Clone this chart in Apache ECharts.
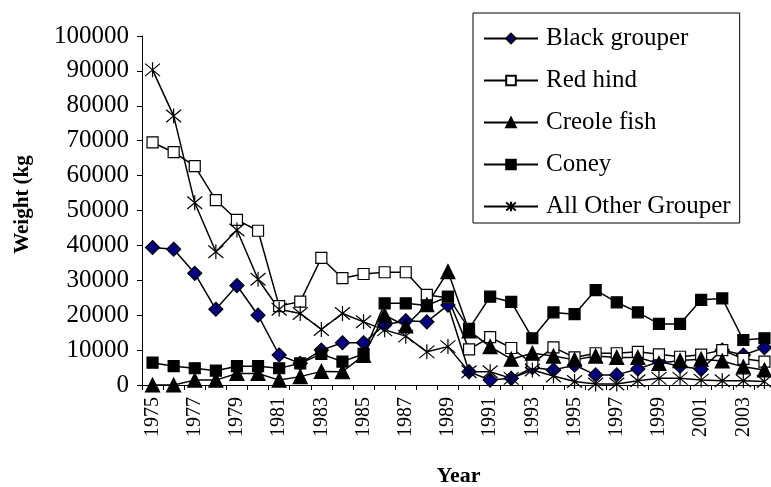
<!DOCTYPE html>
<html>
<head>
<meta charset="utf-8">
<script src="https://cdn.jsdelivr.net/npm/echarts@6/dist/echarts.min.js"></script>
<style>html,body{margin:0;padding:0;background:#fff;}#c{width:771px;height:487px;}</style>
</head>
<body>
<div id="c"></div>
<script>
const years = ['1975','1976','1977','1978','1979','1980','1981','1982','1983','1984','1985','1986','1987','1988','1989','1990','1991','1992','1993','1994','1995','1996','1997','1998','1999','2000','2001','2002','2003','2004'];
const blackGrouper = [39400, 38900, 32000, 21700, 28500, 20000, 8600, 6200, 10000, 12100, 12100, 17200, 18400, 18100, 22900, 3800, 1400, 1900, 5000, 4300, 5700, 2900, 2900, 4600, 6700, 5400, 4500, 10000, 8600, 10700];
const redHind = [69500, 66700, 62700, 53000, 47300, 44200, 22600, 23900, 36400, 30600, 31800, 32300, 32300, 25800, 25000, 10200, 13700, 10600, 6200, 10800, 7900, 9100, 9100, 9500, 8800, 8100, 8700, 10000, 7500, 6700];
const creoleFish = [0, 0, 1400, 1400, 3300, 3300, 1400, 2400, 3900, 3800, 8500, 20000, 16900, 23000, 32500, 15500, 11000, 7400, 9100, 8300, 7200, 8300, 7900, 7900, 6200, 7000, 7400, 6900, 5200, 4300];
const coney = [6400, 5400, 4800, 4100, 5400, 5400, 4800, 6200, 8900, 6700, 8900, 23400, 23400, 22800, 25300, 16100, 25300, 23800, 13400, 20800, 20300, 27200, 23700, 20800, 17500, 17500, 24400, 24800, 12900, 13400];
const allOther = [90300, 77100, 52200, 38200, 44400, 30300, 21700, 20500, 15900, 20500, 18100, 15800, 14000, 9500, 11000, 3800, 3800, 1900, 4300, 2600, 1000, 300, 300, 1200, 1900, 1900, 1400, 1200, 1200, 1000];
const seriesNames = ['Black grouper', 'Red hind', 'Creole fish', 'Coney', 'All Other Grouper'];

const FONT = '"Liberation Serif", "Times New Roman", serif';
const starPath = 'path://M0 1L10 11M10 1L0 11M5 0L5 12';

function mk(name, data, symbol, size, fill) {
  return {
    name: name, type: 'line', data: data, symbol: symbol, symbolSize: size,
    showAllSymbol: true,
    lineStyle: { color: '#000', width: 1.5 },
    itemStyle: { color: fill, borderColor: '#000', borderWidth: 1.2 },
    emphasis: { disabled: true },
    animation: false
  };
}

const chart = echarts.init(document.getElementById('c'));
chart.setOption({
  backgroundColor: '#fff',
  animation: false,
  grid: { left: 142, top: 36, width: 633, height: 349, containLabel: false, outerBoundsMode: 'none' },
  legend: {
    orient: 'vertical', left: 473, top: 13,
    borderColor: '#000', borderWidth: 1,
    padding: [13, 9, 4, 10],
    itemWidth: 54, itemHeight: 12, itemGap: 17,
    textStyle: { fontFamily: FONT, fontSize: 25, color: '#000', padding: [0, 0, 0, 3] },
    data: seriesNames
  },
  xAxis: {
    type: 'category', data: years, boundaryGap: true,
    name: 'Year', nameLocation: 'middle', nameGap: 80,
    nameTextStyle: { fontFamily: FONT, fontSize: 22, fontWeight: 'bold', color: '#000' },
    axisLine: { lineStyle: { color: '#000', width: 1 } },
    axisTick: { show: true, interval: 0, length: 5, inside: false, lineStyle: { color: '#000' } },
    axisLabel: { interval: 1, rotate: 90, margin: 12, fontFamily: FONT, fontSize: 20, color: '#000' },
    splitLine: { show: false }
  },
  yAxis: {
    type: 'value', min: 0, max: 100000, interval: 10000,
    name: 'Weight (kg', nameLocation: 'middle', nameGap: 109, nameRotate: 90,
    nameTextStyle: { fontFamily: FONT, fontSize: 21, fontWeight: 'bold', color: '#000', padding: [0, 0, 0, 12] },
    axisLine: { show: true, lineStyle: { color: '#000', width: 1 } },
    axisTick: { show: true, length: 5, lineStyle: { color: '#000' } },
    axisLabel: { margin: 13, fontFamily: FONT, fontSize: 25, color: '#000', formatter: function (v) { return String(v); } },
    splitLine: { show: false }
  },
  series: [
    mk(seriesNames[0], blackGrouper, 'diamond', 14, '#000080'),
    mk(seriesNames[1], redHind, 'rect', 11, '#fff'),
    mk(seriesNames[2], creoleFish, 'triangle', 14, '#000'),
    mk(seriesNames[3], coney, 'rect', 11, '#000'),
    mk(seriesNames[4], allOther, starPath, 15, '#000')
  ]
});
</script>
</body>
</html>
